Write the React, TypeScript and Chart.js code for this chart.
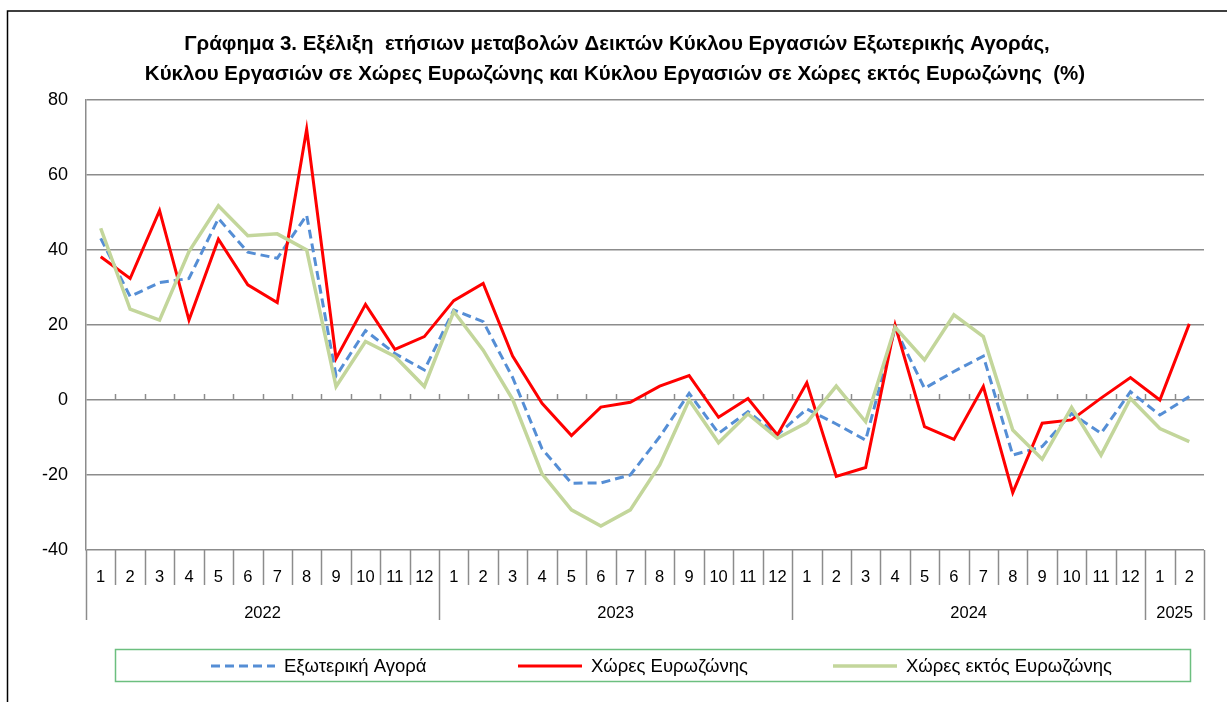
import React, { useEffect, useRef } from 'react';
import { Chart, registerables } from 'chart.js';

Chart.register(...registerables);

// ---- Data ----
const categories = [
  '1', '2', '3', '4', '5', '6', '7', '8', '9', '10', '11', '12',
  '1', '2', '3', '4', '5', '6', '7', '8', '9', '10', '11', '12',
  '1', '2', '3', '4', '5', '6', '7', '8', '9', '10', '11', '12',
  '1', '2',
];
const yearLabels = ['2022', '2023', '2024', '2025'];
const yearSpans = [12, 12, 12, 2];

const externalMarket = [
  43.1, 27.6, 31.3, 32.4, 48.4, 39.4, 37.8, 49.3, 6.4, 18.5, 12.4, 8.0,
  24.0, 20.9, 6.0, -13.0, -22.2, -22.1, -20.0, -9.8, 1.8, -8.9, -3.1, -9.3,
  -2.4, -6.4, -10.7, 19.1, 3.1, 7.6, 11.7, -14.7, -12.4, -3.6, -8.9, 2.2,
  -4.0, 0.9,
];
const eurozone = [
  38.2, 32.4, 50.5, 21.3, 42.9, 30.7, 26.0, 72.2, 11.1, 25.5, 13.5, 16.9,
  26.5, 31.1, 11.7, -0.9, -9.5, -1.9, -0.6, 3.7, 6.5, -4.6, 0.4, -9.3,
  4.6, -20.4, -18.0, 20.0, -7.1, -10.5, 3.6, -24.7, -6.2, -5.3, 0.5, 6.0,
  0.0, 20.3,
];
const nonEurozone = [
  45.8, 24.2, 21.3, 39.6, 51.8, 43.8, 44.3, 40.0, 3.6, 15.6, 11.6, 3.6,
  23.6, 13.3, 0.2, -19.7, -29.3, -33.6, -29.3, -17.3, 0.0, -11.4, -3.7, -10.2,
  -6.0, 3.7, -5.8, 19.4, 10.7, 22.7, 16.9, -8.0, -15.8, -2.0, -14.7, 0.4,
  -7.6, -11.1,
];

const seriesNames = ['Εξωτερική Αγορά', 'Χώρες Ευρωζώνης', 'Χώρες εκτός Ευρωζώνης'];
const titleLines = [
  'Γράφημα 3. Εξέλιξη  ετήσιων μεταβολών Δεικτών Κύκλου Εργασιών Εξωτερικής Αγοράς,',
  'Κύκλου Εργασιών σε Χώρες Ευρωζώνης και Κύκλου Εργασιών σε Χώρες εκτός Ευρωζώνης  (%)',
];

const FONT = "'Liberation Sans', Arial, sans-serif";
const GRID = '#8c8c8c';
const BLUE = '#558ed5';
const RED = '#ff0000';
const GREEN = '#c3d69b';

const decor = {
  id: 'decor',
  beforeDraw(chart: any) {
    const ctx = chart.ctx;
    ctx.save();
    ctx.fillStyle = '#ffffff';
    ctx.fillRect(0, 0, chart.width, chart.height);
    // outer frame
    ctx.strokeStyle = '#000000';
    ctx.lineWidth = 1.5;
    ctx.beginPath();
    ctx.moveTo(7.5, chart.height + 2);
    ctx.lineTo(7.5, 11);
    ctx.lineTo(chart.width + 2, 11);
    ctx.stroke();
    // title
    ctx.fillStyle = '#000000';
    ctx.font = `bold 20.5px ${FONT}`;
    ctx.textAlign = 'center';
    ctx.textBaseline = 'middle';
    ctx.fillText(titleLines[0], 617, 44);
    ctx.fillText(titleLines[1], 615, 74);
    ctx.restore();
  },
  beforeDatasetsDraw(chart: any) {
    const ctx = chart.ctx;
    const xs = chart.scales.x;
    const ys = chart.scales.y;
    const y0 = Math.round(ys.getPixelForValue(0));
    ctx.save();
    ctx.strokeStyle = GRID;
    ctx.lineWidth = 1.5;
    for (let i = 1; i < categories.length; i++) {
      const bx = Math.round((xs.getPixelForValue(i - 1) + xs.getPixelForValue(i)) / 2) + 0.5;
      ctx.beginPath();
      ctx.moveTo(bx, y0 - 6);
      ctx.lineTo(bx, y0);
      ctx.stroke();
    }
    ctx.restore();
  },
  afterDraw(chart: any) {
    const ctx = chart.ctx;
    const xs = chart.scales.x;
    const area = chart.chartArea;
    const n = categories.length;
    const boundary = (i: number) => {
      if (i <= 0) return area.left;
      if (i >= n) return area.right;
      return (xs.getPixelForValue(i - 1) + xs.getPixelForValue(i)) / 2;
    };
    const yearStarts = new Set<number>();
    let acc = 0;
    yearStarts.add(0);
    yearSpans.forEach((s) => { acc += s; yearStarts.add(acc); });

    ctx.save();
    ctx.strokeStyle = GRID;
    ctx.lineWidth = 1.5;
    for (let i = 0; i <= n; i++) {
      const bx = Math.round(boundary(i)) + 0.5;
      ctx.beginPath();
      ctx.moveTo(bx, area.bottom);
      ctx.lineTo(bx, yearStarts.has(i) ? area.bottom + 70 : area.bottom + 35);
      ctx.stroke();
    }
    ctx.fillStyle = '#000000';
    ctx.textAlign = 'center';
    ctx.textBaseline = 'middle';
    ctx.font = `16.5px ${FONT}`;
    categories.forEach((c, i) => {
      ctx.fillText(c, xs.getPixelForValue(i), area.bottom + 27);
    });
    let start = 0;
    yearLabels.forEach((y, k) => {
      const end = start + yearSpans[k];
      const cx = (boundary(start) + boundary(end)) / 2;
      ctx.fillText(y, cx, area.bottom + 63);
      start = end;
    });

    // legend
    ctx.strokeStyle = '#6cbf7f';
    ctx.lineWidth = 1.5;
    ctx.strokeRect(115.5, 649.5, 1075, 32);
    const ly = 666;
    const sampleStarts = [211, 518, 833];
    chart.data.datasets.forEach((ds: any, k: number) => {
      const sx = sampleStarts[k];
      ctx.save();
      ctx.strokeStyle = ds.borderColor;
      ctx.lineWidth = ds.borderWidth;
      ctx.setLineDash(ds.borderDash || []);
      ctx.beginPath();
      ctx.moveTo(sx, ly);
      ctx.lineTo(sx + 64, ly);
      ctx.stroke();
      ctx.restore();
      ctx.fillStyle = '#000000';
      ctx.textAlign = 'left';
      ctx.font = `18.5px ${FONT}`;
      ctx.fillText(ds.label, sx + 73, ly + 1);
    });
    ctx.restore();
  },
};

export default function App() {
  const ref = useRef<HTMLCanvasElement>(null);
  useEffect(() => {
    if (!ref.current) return;
    const chart = new Chart(ref.current, {
      type: 'line',
      data: {
        labels: categories,
        datasets: [
          {
            label: seriesNames[0],
            data: externalMarket,
            borderColor: BLUE,
            backgroundColor: BLUE,
            borderWidth: 3,
            borderDash: [9, 5],
            pointRadius: 0,
            tension: 0,
            fill: false,
            order: 3,
          },
          {
            label: seriesNames[1],
            data: eurozone,
            borderColor: RED,
            backgroundColor: RED,
            borderWidth: 3,
            pointRadius: 0,
            tension: 0,
            fill: false,
            order: 2,
          },
          {
            label: seriesNames[2],
            data: nonEurozone,
            borderColor: GREEN,
            backgroundColor: GREEN,
            borderWidth: 3.5,
            pointRadius: 0,
            tension: 0,
            fill: false,
            order: 1,
          },
        ],
      },
      options: {
        responsive: false,
        animation: false,
        devicePixelRatio: 1,
        layout: { padding: { left: 0, top: 100, right: 23, bottom: 152 } },
        plugins: {
          legend: { display: false },
          title: { display: false },
          tooltip: { enabled: false },
        },
        scales: {
          x: {
            type: 'category',
            display: false,
            offset: true,
            afterFit: (s: any) => { s.paddingLeft = 0; s.paddingRight = 0; s.height = 0; },
          },
          y: {
            min: -40,
            max: 80,
            ticks: {
              stepSize: 20,
              padding: 18,
              color: '#000000',
              font: { family: FONT, size: 18 },
            },
            grid: { color: GRID, lineWidth: 1.5, drawTicks: false },
            border: { display: true, color: GRID, width: 1.5 },
            afterFit: (s: any) => { s.width = 86; s.paddingTop = 0; s.paddingBottom = 0; },
          },
        },
      },
      plugins: [decor],
    } as any);
    return () => chart.destroy();
  }, []);
  return (
    <div style={{ position: 'fixed', left: 0, top: 0, width: 1227, height: 702, background: '#fff' }}>
      <canvas ref={ref} width={1227} height={702} style={{ display: 'block' }} />
    </div>
  );
}
